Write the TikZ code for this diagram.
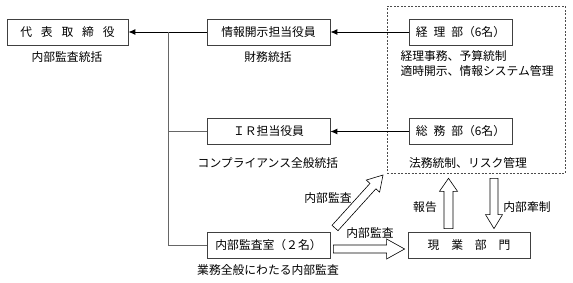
\documentclass[tikz,border=0pt]{standalone}
\usepackage{fontspec}
\setmainfont{Noto Sans CJK JP}
\usetikzlibrary{calc,arrows.meta}
\newcommand\hollowarr[5]{%
  \coordinate (hb) at ($(#2)!#5!(#1)$);
  \draw[hollow] ($(#1)!#3!90:(#2)$) -- ($(hb)!#3!90:(#2)$) -- ($(hb)!#4!90:(#2)$) -- (#2)
    -- ($(hb)!#4!-90:(#2)$) -- ($(hb)!#3!-90:(#2)$) -- ($(#1)!#3!-90:(#2)$) -- cycle;}
\begin{document}
\begin{tikzpicture}[x=1pt,y=-1pt, font=\fontsize{11.8}{14}\selectfont,
  box/.style={draw=black!75, line width=0.8pt, minimum height=26pt, inner sep=0pt},
  conn/.style={line width=0.9pt, -{Latex[length=7pt,width=6pt]}},
  tree/.style={draw=black!60, line width=0.8pt},
  hollow/.style={draw=black, line width=0.6pt, fill=white},
  grp/.style={draw=black!70, dash pattern=on 2pt off 1.5pt, line width=0.6pt, inner sep=0pt}]
\useasboundingbox (0,0) rectangle (573,282);
% group
\node[grp, minimum width=178pt, minimum height=167pt] (grp) at (476,89.5) {};
% boxes
\node[box, minimum width=121pt] (ceo) at (67.5,32) {代\hspace{.75em}表\hspace{.75em}取\hspace{.75em}締\hspace{.75em}役};
\node[box, minimum width=123pt] (info) at (268.5,32) {情報開示担当役員};
\node[box, minimum width=103pt, fill=white] (acc) at (460.5,32) {経\hspace{.5em}理\hspace{.5em}部（6名）};
\node[box, minimum width=123pt] (ir) at (268.5,131.5) {ＩＲ担当役員};
\node[box, minimum width=103pt, fill=white] (gen) at (460.5,131.5) {総\hspace{.5em}務\hspace{.5em}部（6名）};
\node[box, minimum width=123pt] (audit) at (268.5,245) {内部監査室（２名）};
\node[box, minimum width=122pt] (field) at (469,245) {現\hspace{1em}業\hspace{1em}部\hspace{1em}門};
% labels
\node (l1) at (67,57) {内部監査統括};
\node (l2) at (268,57) {財務統括};
\node[anchor=west] (l3) at (397,56) {経理事務、予算統制};
\node[anchor=west] (l4) at (397,71) {適時開示、情報システム管理};
\node (l5) at (268,163.5) {コンプライアンス全般統括};
\node (l6) at (468,163.5) {法務統制、リスク管理};
\node (l7) at (268,270) {業務全般にわたる内部監査};
\node (l8) at (328,198) {内部監査};
\node (l9) at (370,233) {内部監査};
\node (l10) at (425,207) {報告};
\node (l11) at (527,207) {内部牽制};
% connectors
\draw[conn] (info) -- (ceo);
\draw[conn] (acc) -- (info);
\draw[conn] (gen) -- (ir);
\coordinate (tj) at (168,32);
\draw[tree] (tj) |- (audit.west);
\draw[tree] (tj |- ir.west) -- (ir.west);
% hollow arrows
\coordinate (rA) at ($(audit.east)+(3,4)$);
\coordinate (rB) at ($(field.west)+(-3,4)$);
\hollowarr{rA}{rB}{4pt}{10pt}{18pt}
\coordinate (uA) at ($(field.north)+(-20.5,-3)$);
\coordinate (uB) at ($(grp.south)+(-27.5,5)$);
\hollowarr{uA}{uB}{4.5pt}{9pt}{13pt}
\coordinate (dA) at ($(grp.south)+(18,5)$);
\coordinate (dB) at ($(field.north)+(25,-3)$);
\hollowarr{dA}{dB}{4pt}{8.5pt}{14pt}
\coordinate (gA) at (335,228);
\coordinate (gB) at (383,175);
\hollowarr{gA}{gB}{4pt}{9pt}{15pt}
\end{tikzpicture}
\end{document}
